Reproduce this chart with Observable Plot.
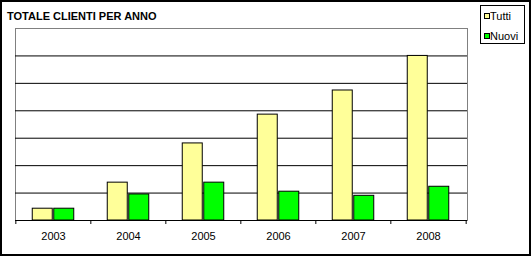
<!DOCTYPE html>
<html>
<head>
<meta charset="utf-8">
<script src="https://cdn.jsdelivr.net/npm/d3@7"></script>
<script src="https://cdn.jsdelivr.net/npm/@observablehq/plot@0.6"></script>
<style>
  html, body { margin: 0; padding: 0; background: white; }
  #wrap { position: relative; width: 531px; height: 256px; font-family: "Liberation Sans", Arial, sans-serif; color: black; }
  #border { position: absolute; left: 0; top: 0; width: 531px; height: 256px; box-sizing: border-box; border: 2px solid black; pointer-events: none; }
  #title { position: absolute; left: 7px; top: 10px; font-size: 11px; font-weight: bold; line-height: 13px; white-space: nowrap; }
  #legend { position: absolute; left: 480px; top: 5px; width: 45px; height: 39px; box-sizing: border-box; border: 1px solid black; background: white; }
  .item { position: absolute; left: 3px; font-size: 11px; line-height: 13px; white-space: nowrap; }
  .sw { position: absolute; left: 0; top: 3px; width: 6px; height: 6px; box-sizing: border-box; border: 1px solid black; }
  .lab { position: absolute; left: 6px; top: 0; }
</style>
</head>
<body>
<div id="wrap">
  <div id="chart"></div>
  <div id="title"></div>
  <div id="legend"></div>
  <div id="border"></div>
</div>
<script>
const title = "TOTALE CLIENTI PER ANNO";
const years = ["2003", "2004", "2005", "2006", "2007", "2008"];
const series = ["Tutti", "Nuovi"];
const colors = ["#FFFF99", "#00FF00"];
const tutti = [43, 138, 281, 386, 474, 600];
const nuovi = [43, 95, 138, 105, 90, 123];
const gridTicks = [100, 200, 300, 400, 500, 600];
const yMax = 700;

const W = 531, H = 256;
const mL = 15, mR = 64, mT = 28, mB = 36;
const step = (W - mL - mR) / years.length;
const barW = 20.5;
const pad = 1 - barW / step;

const dataT = years.map((y, i) => ({year: y, value: tutti[i]}));
const dataN = years.map((y, i) => ({year: y, value: nuovi[i]}));

const chart = Plot.plot({
  width: W,
  height: H,
  marginLeft: mL,
  marginRight: mR,
  marginTop: mT,
  marginBottom: mB,
  style: {fontFamily: "'Liberation Sans', Arial, sans-serif", fontSize: "11px", color: "black", background: "white", overflow: "visible"},
  x: {type: "band", domain: years, paddingInner: pad, paddingOuter: pad / 2, label: null},
  y: {domain: [0, yMax], axis: null, label: null},
  marks: [
    Plot.frame({stroke: "#808080"}),
    Plot.ruleY(gridTicks, {stroke: "black"}),
    Plot.barY(dataT, {x: "year", y: "value", fill: colors[0], stroke: "black", strokeWidth: 1, dx: -barW / 2 - 0.5}),
    Plot.barY(dataN, {x: "year", y: "value", fill: colors[1], stroke: "black", strokeWidth: 1, dx: barW / 2 + 0.5}),
    Plot.ruleY([0], {stroke: "black"}),
    Plot.axisX({tickSize: 4, tickFormat: () => "", dx: -step / 2, stroke: "black", label: null}),
    Plot.axisX([years[years.length - 1]], {tickSize: 4, tickFormat: () => "", dx: step / 2, stroke: "black", label: null}),
    Plot.axisX({tickSize: 0, tickPadding: 12, fontSize: 11, fill: "black", label: null})
  ]
});
document.getElementById("chart").appendChild(chart);

document.getElementById("title").textContent = title;
const legend = document.getElementById("legend");
series.forEach((s, i) => {
  const item = document.createElement("div");
  item.className = "item";
  item.style.top = (4 + i * 20) + "px";
  const sw = document.createElement("div");
  sw.className = "sw";
  sw.style.background = colors[i];
  const lab = document.createElement("div");
  lab.className = "lab";
  lab.textContent = s;
  item.appendChild(sw);
  item.appendChild(lab);
  legend.appendChild(item);
});
</script>
</body>
</html>
